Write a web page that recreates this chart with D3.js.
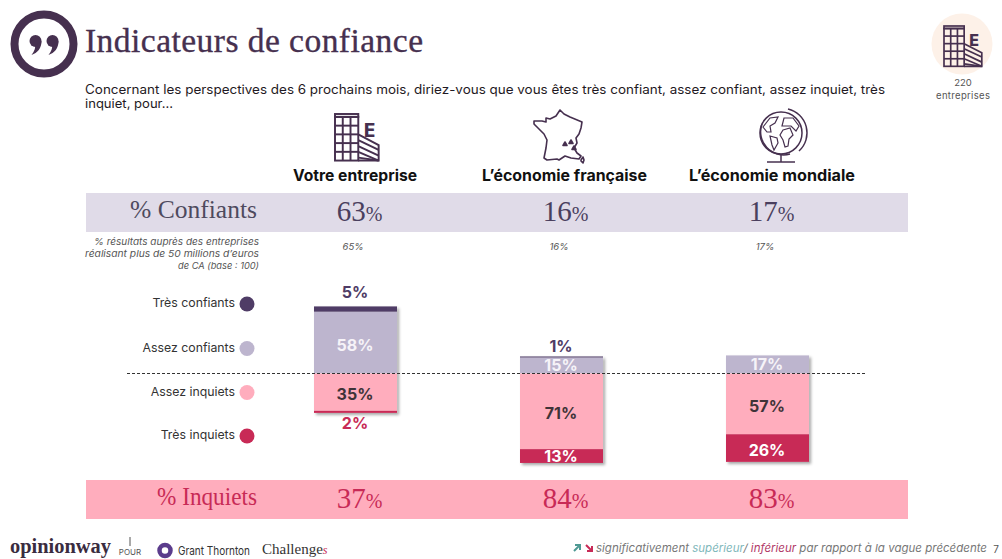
<!DOCTYPE html>
<html lang="fr">
<head>
<meta charset="UTF-8">
<title>Indicateurs de confiance</title>
<script src="https://cdn.jsdelivr.net/npm/d3@7"></script>
<style>
  html, body { margin: 0; padding: 0; background: #fff; }
  svg { display: block; }
  text { font-family: Inter, "Open Sans", sans-serif; }
  .serif { font-family: "Liberation Serif", serif; }
</style>
</head>
<body>
<script>
var width = 1002
var height = 559

// donnees
var categories = ['Votre entreprise', "L’économie française", "L’économie mondiale"]
var tresConfiants = [5, 1, 0]
var assezConfiants = [58, 15, 17]
var assezInquiets = [35, 71, 57]
var tresInquiets = [2, 13, 26]
var totalConfiants = [63, 16, 17]
var totalInquiets = [37, 84, 83]
var grandesEntreprises = [65, 16, 17]
var legendLabels = ['Très confiants', 'Assez confiants', 'Assez inquiets', 'Très inquiets']
var legendColors = ['#4f3c66', '#bdb5ce', '#ffadbd', '#c82a56']

var purple = '#46304f'
var textDark = '#1f1a24'

var svg = d3.select('body').append('svg')
    .attr('width', width)
    .attr('height', height)

var defs = svg.append('defs')
var shadow = defs.append('filter').attr('id', 'ombre')
    .attr('x', '-10%').attr('y', '-10%').attr('width', '125%').attr('height', '125%')
shadow.append('feDropShadow')
    .attr('dx', 2).attr('dy', 2).attr('stdDeviation', 1.5)
    .attr('flood-color', '#000').attr('flood-opacity', 0.35)

var x = d3.scaleBand()
    .domain(categories)
    .range([211, 912])
    .paddingInner(0.597)
    .paddingOuter(0.5)
var y = d3.scaleLinear().domain([-100, 100]).range([480, 267])

// pastille titre
var logo = svg.append('g').attr('transform', 'translate(44,44)')
logo.append('circle').attr('r', 29.5).attr('fill', 'none').attr('stroke', purple).attr('stroke-width', 8)
;[-8.5, 8.5].forEach(function (dx) {
    var q = logo.append('g').attr('transform', 'translate(' + dx + ',0)')
    q.append('circle').attr('cy', -3).attr('r', 6).attr('fill', purple)
    q.append('path').attr('d', 'M6,-3 C6.2,4 2,9 -4,11 C-1,7 0,4 -0.5,2 Z').attr('fill', purple)
})

svg.append('text').attr('class', 'serif')
    .attr('x', 85).attr('y', 52)
    .attr('font-size', 33.5).attr('fill', purple)
    .attr('stroke', purple).attr('stroke-width', 0.35)
    .attr('textLength', 338).attr('lengthAdjust', 'spacing')
    .text('Indicateurs de confiance')

svg.append('text').attr('x', 85).attr('y', 94)
    .attr('font-size', 12.5).attr('fill', textDark)
    .attr('textLength', 800).attr('lengthAdjust', 'spacingAndGlyphs')
    .text('Concernant les perspectives des 6 prochains mois, diriez-vous que vous êtes très confiant, assez confiant, assez inquiet, très')
svg.append('text').attr('x', 85).attr('y', 108)
    .attr('font-size', 12.5).attr('fill', textDark)
    .attr('textLength', 88).attr('lengthAdjust', 'spacingAndGlyphs')
    .text('inquiet, pour…')

// icones
function building(parent, tx, ty, k) {
    var g = parent.append('g')
        .attr('transform', 'translate(' + tx + ',' + ty + ') scale(' + k + ')')
        .attr('fill', 'none').attr('stroke', purple).attr('stroke-width', 2)
    g.append('rect').attr('x', 0).attr('y', 3).attr('width', 24).attr('height', 45)
    g.append('rect').attr('x', 0).attr('y', 0).attr('width', 24).attr('height', 3)
    d3.range(1, 5).forEach(function (i) {
        g.append('line').attr('x1', 0).attr('x2', 24).attr('y1', 3 + i * 9).attr('y2', 3 + i * 9)
    })
    d3.range(1, 3).forEach(function (i) {
        g.append('line').attr('x1', i * 8).attr('x2', i * 8).attr('y1', 3).attr('y2', 48)
    })
    g.append('path').attr('d', 'M24,21 L45,32 L45,48 L24,48')
    d3.range(0, 4).forEach(function (i) {
        g.append('line').attr('x1', 24).attr('y1', 27 + i * 6).attr('x2', 45).attr('y2', 37 + i * 6 > 48 ? 48 : 37 + i * 6)
    })
    g.append('text').attr('x', 30).attr('y', 24)
        .attr('font-size', 19).attr('font-weight', 800)
        .attr('fill', purple).attr('stroke', 'none').text('E')
}

svg.append('circle').attr('cx', 962).attr('cy', 44).attr('r', 30.5).attr('fill', '#fdf1e8')
building(svg, 944, 26, 0.84)
svg.append('text').attr('x', 963).attr('y', 86)
    .attr('text-anchor', 'middle').attr('font-size', 9.5).attr('fill', '#555').text('220')
svg.append('text').attr('x', 963).attr('y', 99)
    .attr('text-anchor', 'middle').attr('font-size', 9.5).attr('fill', '#555')
    .attr('textLength', 54).attr('lengthAdjust', 'spacing').text('entreprises')

building(svg, 335, 114, 0.97)

// carte de France
var france = svg.append('g').attr('transform', 'translate(533,110)')
    .attr('fill', 'none').attr('stroke', purple).attr('stroke-width', 1.6).attr('stroke-linejoin', 'round')
france.append('path').attr('d', 'M27,0 L31,4 L37,7 L49,12 L48,18 L46,24 L43,28 L44,33 L41,38 L44,43 L48,46 L46,49 L38,48 L32,46 L26,50 L24,49 L14,50 L11,48 L13,38 L14,30 L11,24 L6,19 L1,14 L1,11 L9,11 L13,12 L13,8 L17,9 L23,6 Z')
france.append('path').attr('d', 'M48,50 L50,47 L51,50 L50,53 L48,51 Z')
;[[32, 34], [38, 32], [41, 38]].forEach(function (p) {
    france.append('path').attr('transform', 'translate(' + p[0] + ',' + p[1] + ')')
        .attr('d', 'M-2,1.5 L0,-2 L2,1.5 Z').attr('fill', purple)
})

// globe
var globe = svg.append('g').attr('transform', 'translate(781,133)')
    .attr('fill', 'none').attr('stroke', purple).attr('stroke-width', 1.5)
globe.append('circle').attr('r', 21)
globe.append('path').attr('d', 'M-19,-9 A23,23 0 0 0 9,21')
globe.append('path').attr('d', 'M7,-24 A24.5,24.5 0 0 1 18,18')
globe.append('line').attr('x1', 0).attr('x2', 0).attr('y1', 22).attr('y2', 29)
globe.append('line').attr('x1', -14).attr('x2', 14).attr('y1', 29).attr('y2', 29)
globe.append('path').attr('d', 'M-18,-6 L-11,-15 L-3,-16 L-6,-10 L-11,-7 L-10,-1 L-14,-1 Z').attr('stroke-width', 1.2)
globe.append('path').attr('d', 'M-11,3 L-4,5 L-3,10 L-7,17 L-9,12 Z').attr('stroke-width', 1.2)
globe.append('path').attr('d', 'M2,-3 L9,-5 L12,2 L8,6 L7,13 L4,14 L2,7 L-1,2 Z').attr('stroke-width', 1.2)
globe.append('path').attr('d', 'M1,-7 L3,-15 L12,-15 L18,-7 L15,-2 L10,-7 Z').attr('stroke-width', 1.2)

// titres de colonnes
var labelCenters = [355, 564.5, 772]
var labelWidths = [124, 165, 166]
svg.selectAll('.colTitle').data(categories).enter().append('text')
    .attr('class', 'colTitle')
    .attr('x', function (d, i) { return labelCenters[i] })
    .attr('y', 181)
    .attr('text-anchor', 'middle')
    .attr('font-size', 15.5).attr('font-weight', 700).attr('fill', '#111')
    .attr('textLength', function (d, i) { return labelWidths[i] })
    .attr('lengthAdjust', 'spacingAndGlyphs')
    .text(function (d) { return d })

// bandeaux
var bands = [
    { y: 193, fill: '#e0dbe8', label: '% Confiants', labelWidth: 127, color: '#4e4a5e', values: totalConfiants, numColor: '#4a3f5e' },
    { y: 480, fill: '#ffadbd', label: '% Inquiets', labelWidth: 100, color: '#c82a56', values: totalInquiets, numColor: '#c82a56' }
]
bands.forEach(function (b) {
    svg.append('rect').attr('x', 86).attr('y', b.y).attr('width', 822).attr('height', 39).attr('fill', b.fill)
    svg.append('text').attr('class', 'serif')
        .attr('x', 257).attr('y', b.y + 24.5)
        .attr('text-anchor', 'end').attr('font-size', 25).attr('fill', b.color)
        .attr('textLength', b.labelWidth).attr('lengthAdjust', 'spacingAndGlyphs')
        .text(b.label)
    var t = svg.selectAll(null).data(b.values).enter().append('text')
        .attr('class', 'serif')
        .attr('x', function (d, i) { return x(categories[i]) + x.bandwidth() / 2 + 4 })
        .attr('y', b.y + 28)
        .attr('text-anchor', 'middle')
        .attr('fill', b.numColor)
    t.append('tspan').attr('font-size', 29).text(function (d) { return d })
    t.append('tspan').attr('font-size', 20).text('%')
})

// note sous le bandeau
var noteLines = ['% résultats auprès des entreprises', "réalisant plus de 50 millions d’euros", 'de CA (base : 100)']
var noteWidths = [165, 174, 81]
svg.selectAll('.note').data(noteLines).enter().append('text')
    .attr('class', 'note')
    .attr('x', 259)
    .attr('y', function (d, i) { return 245 + i * 12 })
    .attr('text-anchor', 'end')
    .attr('font-size', 9.2).attr('font-style', 'italic').attr('fill', '#555')
    .attr('textLength', function (d, i) { return noteWidths[i] })
    .attr('lengthAdjust', 'spacingAndGlyphs')
    .text(function (d) { return d })
svg.selectAll('.sub').data(grandesEntreprises).enter().append('text')
    .attr('class', 'sub')
    .attr('x', function (d, i) { return x(categories[i]) + x.bandwidth() / 2 - 2.5 })
    .attr('y', 250)
    .attr('text-anchor', 'middle')
    .attr('font-size', 9.5).attr('font-style', 'italic').attr('fill', '#555')
    .text(function (d) { return d + '%' })

// legende
var legendY = [304, 348.5, 392.5, 436]
var legend = svg.selectAll('.legend').data(legendLabels).enter().append('g')
    .attr('class', 'legend')
    .attr('transform', function (d, i) { return 'translate(0,' + legendY[i] + ')' })
legend.append('circle').attr('cx', 247).attr('r', 7.5)
    .attr('fill', function (d, i) { return legendColors[i] })
legend.append('text').attr('x', 235).attr('y', 3)
    .attr('text-anchor', 'end').attr('font-size', 12.3).attr('fill', '#333')
    .text(function (d) { return d })

// barres empilees
var table = categories.map(function (c, i) {
    return {
        category: c,
        assezConfiants: assezConfiants[i],
        tresConfiants: tresConfiants[i],
        assezInquiets: -assezInquiets[i],
        tresInquiets: -tresInquiets[i]
    }
})
var keys = ['assezConfiants', 'tresConfiants', 'assezInquiets', 'tresInquiets']
var keyColors = { tresConfiants: legendColors[0], assezConfiants: legendColors[1], assezInquiets: legendColors[2], tresInquiets: legendColors[3] }
var labelColors = { tresConfiants: '#4f3c66', assezConfiants: '#f6f3f8', assezInquiets: '#3f3338', tresInquiets: '#ffffff' }
var series = d3.stack().keys(keys).offset(d3.stackOffsetDiverging)(table)

var barsGroup = svg.append('g')
// ombre portee par barre entiere
barsGroup.selectAll('.fond').data(table).enter().append('rect')
    .attr('class', 'fond')
    .attr('x', function (d) { return x(d.category) })
    .attr('width', x.bandwidth())
    .attr('y', function (d, i) { return y(totalConfiants[i]) })
    .attr('height', function (d, i) { return y(-totalInquiets[i]) - y(totalConfiants[i]) })
    .attr('fill', '#fff')
    .attr('filter', 'url(#ombre)')

series.forEach(function (s) {
    barsGroup.selectAll(null).data(s.filter(function (d) { return d[1] !== d[0] })).enter().append('rect')
        .attr('x', function (d) { return x(d.data.category) })
        .attr('width', x.bandwidth())
        .attr('y', function (d) { return y(d[1]) })
        .attr('height', function (d) { return y(d[0]) - y(d[1]) })
        .attr('fill', keyColors[s.key])
})

// pointilles au niveau zero
svg.append('line')
    .attr('x1', 127).attr('x2', 866)
    .attr('y1', y(0)).attr('y2', y(0))
    .attr('stroke', '#333').attr('stroke-width', 1).attr('stroke-dasharray', '3,2')

// etiquettes
series.forEach(function (s) {
    svg.selectAll(null).data(s.filter(function (d) { return d[1] !== d[0] })).enter().append('text')
        .attr('x', function (d) { return x(d.data.category) + x.bandwidth() / 2 - 0.5 })
        .attr('y', function (d) {
            var v = Math.abs(d[1] - d[0])
            if (v <= 1 && s.key === 'tresConfiants') return y(d[1]) - 4.5
            if (v <= 5 && s.key === 'tresConfiants') return y(d[1]) - 8
            if (v <= 5) return y(d[0]) + 16
            return (y(d[0]) + y(d[1])) / 2 + (v >= 20 ? 8 : 5.5)
        })
        .attr('text-anchor', 'middle')
        .attr('font-size', 16).attr('font-weight', 700)
        .attr('fill', function (d) {
            if (s.key === 'tresInquiets' && Math.abs(d[1] - d[0]) <= 5) return '#c82a56'
            return labelColors[s.key]
        })
        .text(function (d) { return Math.abs(d[1] - d[0]) + '%' })
})

// pied de page
svg.append('text').attr('class', 'serif').attr('x', 10).attr('y', 553)
    .attr('font-size', 20).attr('font-weight', 700).attr('fill', '#3a2c40')
    .attr('textLength', 101).attr('lengthAdjust', 'spacingAndGlyphs')
    .text('opinionway')
svg.append('text').attr('x', 130).attr('y', 555)
    .attr('text-anchor', 'middle').attr('font-size', 8).attr('fill', '#555').text('POUR')
svg.append('line').attr('x1', 130).attr('x2', 130).attr('y1', 537).attr('y2', 546).attr('stroke', '#555')
svg.append('circle').attr('cx', 165).attr('cy', 550.5).attr('r', 5.5)
    .attr('fill', 'none').attr('stroke', '#5b3c8c').attr('stroke-width', 4.5)
svg.append('text').attr('x', 178).attr('y', 555)
    .attr('font-size', 11.5).attr('fill', '#333')
    .attr('textLength', 72).attr('lengthAdjust', 'spacingAndGlyphs')
    .text('Grant Thornton')
var ch = svg.append('text').attr('class', 'serif').attr('x', 262).attr('y', 554)
    .attr('font-size', 15).attr('fill', '#333')
ch.append('tspan').text('Challenge')
ch.append('tspan').attr('fill', '#c82a56').attr('font-style', 'italic').attr('font-size', 12).text('s')

// fleches
svg.append('path').attr('d', 'M574,551 L580,545 M575,545 L580,545 L580,550')
    .attr('fill', 'none').attr('stroke', '#4f9a94').attr('stroke-width', 2)
svg.append('path').attr('d', 'M586,545 L592,551 M592,546 L592,551 L587,551')
    .attr('fill', 'none').attr('stroke', '#c82a56').attr('stroke-width', 2)

var foot = svg.append('text').attr('x', 596).attr('y', 552)
    .attr('font-size', 11).attr('font-style', 'italic').attr('fill', '#777')
    .attr('textLength', 391).attr('lengthAdjust', 'spacingAndGlyphs')
foot.append('tspan').text('significativement ')
foot.append('tspan').attr('fill', '#7fb8bb').text('supérieur')
foot.append('tspan').text('/ ')
foot.append('tspan').attr('fill', '#b23a68').text('inférieur')
foot.append('tspan').text(' par rapport à la vague précédente')
svg.append('text').attr('x', 996).attr('y', 553)
    .attr('text-anchor', 'middle').attr('font-size', 10).attr('fill', '#555').text('7')
</script>
</body>
</html>
